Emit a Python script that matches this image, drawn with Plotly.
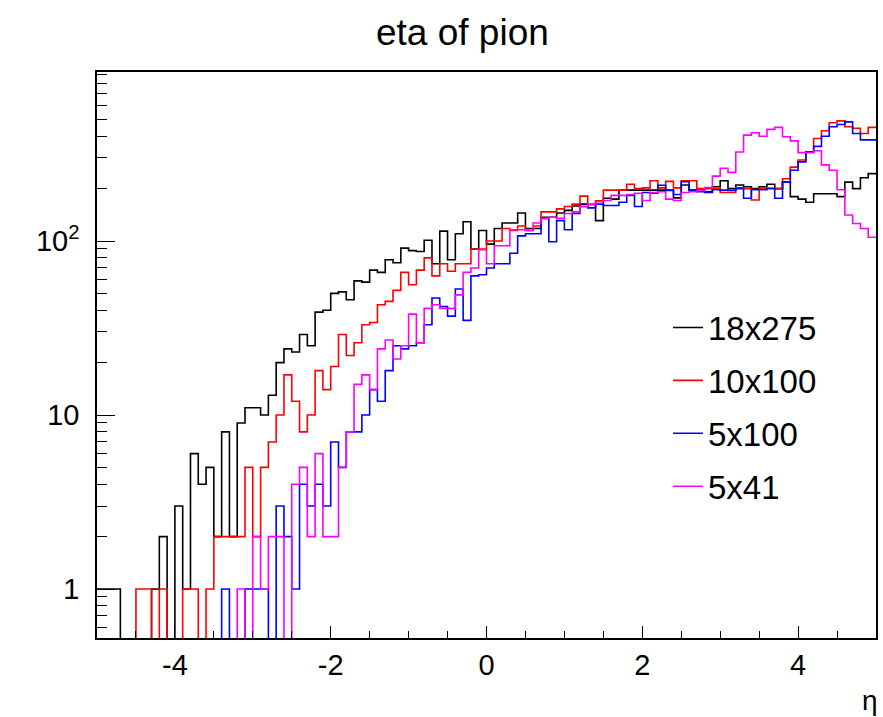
import numpy as np
import plotly.graph_objects as go

# 100 bins of pseudorapidity between -5 and 5
eta_edges = np.linspace(-5.0, 5.0, 101)

counts_18x275 = [
    1, 1, 1, 0, 0, 0, 0, 1, 2, 0,
    3, 1, 6, 4, 5, 2, 8, 2, 9, 11,
    11, 10, 13, 20, 24, 23, 29, 25, 39, 40,
    50, 51, 46, 59, 58, 68, 66, 78, 75, 91,
    88, 87, 101, 74, 114, 78, 110, 129, 90, 115,
    96, 118, 127, 127, 145, 118, 118, 137, 137, 145,
    150, 159, 163, 162, 131, 176, 174, 196, 196, 196,
    196, 196, 196, 196, 177, 210, 196, 196, 192, 205,
    222, 200, 210, 205, 200, 205, 212, 200, 218, 180,
    174, 167, 187, 187, 187, 180, 218, 200, 231, 244,
]

counts_10x100 = [
    0, 0, 0, 0, 0, 1, 1, 0, 1, 0,
    0, 1, 1, 0, 1, 2, 2, 2, 2, 5,
    2, 5, 7, 10, 17, 12, 8, 10, 18, 14,
    19, 29, 22, 26, 33, 34, 43, 45, 52, 66,
    56, 68, 80, 63, 74, 67, 74, 74, 90, 90,
    100, 100, 118, 115, 122, 115, 122, 147, 147, 153,
    158, 163, 181, 162, 170, 196, 196, 196, 212, 200,
    202, 222, 202, 220, 202, 222, 222, 200, 200, 200,
    190, 190, 202, 200, 172, 201, 201, 200, 228, 266,
    292, 326, 388, 430, 478, 490, 454, 445, 415, 450,
]

counts_5x100 = [
    0, 0, 0, 0, 0, 0, 0, 0, 0, 0,
    0, 0, 0, 0, 0, 0, 1, 0, 0, 1,
    1, 1, 0, 3, 2, 1, 4, 3, 4, 3,
    7, 5, 8, 8, 10, 14, 12, 18, 25, 24,
    25, 26, 33, 47, 42, 37, 53, 35, 63, 64,
    70, 74, 74, 85, 107, 110, 110, 135, 99, 131,
    116, 144, 158, 155, 163, 160, 160, 167, 183, 158,
    190, 188, 209, 195, 185, 219, 196, 192, 190, 197,
    196, 195, 200, 176, 197, 197, 200, 176, 218, 255,
    285, 326, 350, 400, 454, 467, 484, 415, 381, 381,
]

counts_5x41 = [
    0, 0, 0, 0, 0, 0, 0, 0, 0, 0,
    0, 0, 0, 0, 0, 0, 0, 0, 1, 0,
    2, 1, 2, 2, 0, 4, 5, 2, 6, 2,
    2, 5, 8, 15, 17, 14, 24, 27, 21, 25,
    38, 26, 41, 43, 41, 41, 49, 66, 70, 89,
    74, 94, 94, 116, 116, 115, 127, 135, 137, 135,
    144, 147, 158, 163, 168, 171, 183, 183, 185, 188,
    171, 190, 192, 174, 171, 190, 192, 195, 203, 236,
    262, 248, 325, 406, 419, 400, 438, 450, 397, 376,
    322, 322, 330, 274, 255, 197, 141, 126, 118, 105,
]

series_names = ["18x275", "10x100", "5x100", "5x41"]
series_counts = [counts_18x275, counts_10x100, counts_5x100, counts_5x41]
series_colors = ["#000000", "#ff0000", "#0000ff", "#ff00ff"]

x_tick_vals = [-4, -2, 0, 2, 4]
x_tick_text = ["-4", "-2", "0", "2", "4"]
y_tick_vals = [1, 10, 100]
y_tick_text = ["1", "10", "10<sup>2</sup>"]

y_lo, y_hi = 0.523, 936.0

fig = go.Figure()
for i, (name, counts, color) in enumerate(zip(series_names, series_counts, series_colors)):
    c = np.asarray(counts, dtype=float)
    # empty bins drop below the log-scale floor, so the outline falls to the axis
    c = np.where(c > 0, c, 0.05)
    fig.add_trace(go.Scatter(
        x=eta_edges,
        y=np.append(c, c[-1]),
        mode="lines",
        line=dict(color=color, width=1.6, shape="hv"),
        name=name,
        legendgroup=f"g{i}",
    ))

minor_vals = [m * d for d in [0.1, 1, 10, 100] for m in range(2, 10)]

fig.update_layout(
    width=883,
    height=717,
    margin=dict(l=97, r=5, t=72, b=79),
    paper_bgcolor="white",
    plot_bgcolor="white",
    font=dict(family="Liberation Sans, Arial, sans-serif", color="black", size=28),
    showlegend=True,
    legend=dict(
        x=0.733, y=0.598, xanchor="left", yanchor="top",
        bgcolor="rgba(0,0,0,0)",
        font=dict(size=33),
        traceorder="grouped",
        tracegroupgap=7,
        itemwidth=30,
    ),
    xaxis=dict(
        range=[-5, 5],
        showgrid=False, zeroline=False,
        showline=True, linecolor="black", linewidth=1.5, mirror=True,
        tickmode="array", tickvals=x_tick_vals, ticktext=x_tick_text,
        ticks="inside", ticklen=12, tickwidth=1.2, tickcolor="black",
        minor=dict(ticks="inside", ticklen=7, tickwidth=1.2, tickcolor="black",
                   tickvals=list(np.arange(-5.0, 5.01, 0.5))),
        tickfont=dict(size=29),
    ),
    yaxis=dict(
        type="log",
        range=[np.log10(y_lo), np.log10(y_hi)],
        showgrid=False, zeroline=False,
        showline=True, linecolor="black", linewidth=1.5, mirror=True,
        tickmode="array", tickvals=y_tick_vals, ticktext=y_tick_text,
        ticks="inside", ticklen=18, tickwidth=1.2, tickcolor="black",
        minor=dict(ticks="inside", ticklen=10, tickwidth=1.2, tickcolor="black",
                   tickvals=minor_vals),
        tickfont=dict(size=29),
        ticklabelstandoff=10,
    ),
    annotations=[
        dict(text="eta of pion", xref="paper", yref="paper",
             x=0.4686, y=1.0, yshift=40, xanchor="center", yanchor="middle",
             showarrow=False, font=dict(size=37)),
        dict(text="η", xref="paper", yref="paper",
             x=0.992, y=0.0, yshift=-62, xanchor="center", yanchor="middle",
             showarrow=False, font=dict(size=28)),
    ],
)

fig.write_html("out.html")
